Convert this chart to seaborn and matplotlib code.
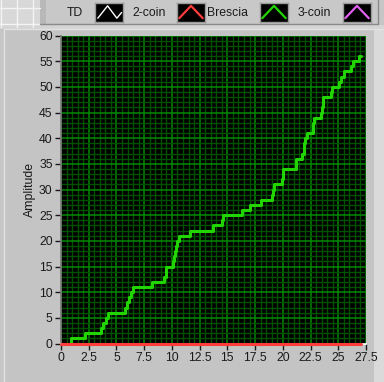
import numpy as np
import pandas as pd
import matplotlib
matplotlib.use("Agg")
import matplotlib.pyplot as plt
from matplotlib.patches import Rectangle
from matplotlib.lines import Line2D
import seaborn as sns

# ---- data ----
brescia_x = [0.0, 0.88, 2.17, 3.62, 3.83, 4.04, 4.28, 5.79, 5.99, 6.10, 6.30, 6.49,
             8.20, 9.32, 9.45, 9.50, 10.10, 10.20, 10.30, 10.40, 10.50, 10.60,
             11.62, 13.70, 14.50, 14.60, 16.30, 17.05, 18.07, 18.98, 19.10, 19.20,
             19.95, 20.00, 20.06, 21.15, 21.20, 21.70, 21.87, 21.95, 22.00, 22.20,
             22.70, 22.75, 22.80, 23.45, 23.55, 23.60, 23.65, 24.30, 24.40, 25.10,
             25.25, 25.55, 25.60, 26.15, 26.30, 26.90, 27.05]
brescia_y = [0, 1, 2, 3, 4, 5, 6, 7, 8, 9, 10, 11,
             12, 13, 14, 15, 16, 17, 18, 19, 20, 21,
             22, 23, 24, 25, 26, 27, 28, 29, 30, 31,
             32, 33, 34, 35, 36, 37, 38, 39, 40, 41,
             42, 43, 44, 45, 46, 47, 48, 49, 50, 51,
             52, 53, 53, 54, 55, 56, 56]
coin2_x = [0.0, 27.05]
coin2_y = [0, 0]

legend_names = ["TD", "2-coin", "Brescia", "3-coin"]
legend_colors = ["#ffffff", "#ff3c3c", "#22d400", "#e060f0"]

x_ticks = [0, 2.5, 5, 7.5, 10, 12.5, 15, 17.5, 20, 22.5, 25, 27.5]
x_tick_labels = ["0", "2.5", "5", "7.5", "10", "12.5", "15", "17.5", "20", "22.5", "25", "27.5"]
y_ticks = list(range(0, 61, 5))
y_label = "Amplitude"

# ---- figure ----
sns.set_theme(style="dark")
plt.rcParams['font.family'] = ['Liberation Sans', 'DejaVu Sans']

W, H = 384, 382
fig = plt.figure(figsize=(W / 100, H / 100), dpi=100)
fig.patch.set_facecolor("#c6c6c6")

BG = -20

def fx(px):
    return px / W

def fy(py):
    return 1 - py / H

def rect(x0, y0, x1, y1, **kw):
    fig.add_artist(Rectangle((fx(x0), fy(y1)), fx(x1) - fx(x0), fy(y0) - fy(y1),
                             transform=fig.transFigure, zorder=BG, **kw))

def hline(x0, x1, y, color, lw=1):
    fig.add_artist(Line2D([fx(x0), fx(x1)], [fy(y), fy(y)], transform=fig.transFigure,
                          color=color, lw=lw, zorder=BG + 1))

def vline(x, y0, y1, color, lw=1):
    fig.add_artist(Line2D([fx(x), fx(x)], [fy(y0), fy(y1)], transform=fig.transFigure,
                          color=color, lw=lw, zorder=BG + 1))

# panel background pieces
rect(0, 0, 40, 27, facecolor="#d8d8d8", edgecolor="none")
for gx in [1, 17, 33]:
    vline(gx, 0, 27, "#f4f4f4")
for gy in [8, 24]:
    hline(0, 40, gy, "#f4f4f4")
rect(0, 25, 384, 29, facecolor="#d4d4d4", edgecolor="none")
rect(4, 29, 384, 382, facecolor="#c4c4c4", edgecolor="none")
vline(4, 29, 382, "#e2e2e2")
hline(4, 384, 29, "#e2e2e2")
rect(374, 29, 384, 382, facecolor="#dadada", edgecolor="none")

# legend strip
rect(40, 0, 378, 24, facecolor="#c8c8c8", edgecolor="none")
rect(40, 0, 46, 24, facecolor="#b8b8b8", edgecolor="none")
hline(40, 378, 24, "#8a8a8a")
vline(378, 0, 24, "#8a8a8a")

label_x = [83, 166, 248, 331]
icon_x = [95, 177, 260, 343]
for name, col, lx, ix in zip(legend_names, legend_colors, label_x, icon_x):
    fig.text(fx(lx), fy(13), name, ha="right", va="center", fontsize=8.8, color="#1a1a1a")
    iax = fig.add_axes([fx(ix), fy(22), fx(28), 19 / H])
    iax.set_facecolor("black")
    iax.set_xlim(0, 1)
    iax.set_ylim(0, 1)
    iax.set_xticks([])
    iax.set_yticks([])
    for s in iax.spines.values():
        s.set_visible(True)
        s.set_color("#9a9a9a")
        s.set_linewidth(1)
    if name == "TD":
        iax.plot([0.1, 0.45, 0.78, 0.95], [0.2, 0.85, 0.2, 0.5], color=col, lw=1)
    else:
        iax.plot([0.08, 0.5, 0.92], [0.2, 0.85, 0.2], color=col, lw=1.6)

# main axes
ax = fig.add_axes([fx(61), fy(343.5), fx(366) - fx(61), (343.5 - 35.5) / H])
ax.set_facecolor("black")

df_b = pd.DataFrame({"x": brescia_x, "y": brescia_y})
df_c = pd.DataFrame({"x": coin2_x, "y": coin2_y})
sns.lineplot(data=df_b, x="x", y="y", ax=ax, estimator=None, sort=False,
             drawstyle="steps-post", color=legend_colors[2], lw=2.2, zorder=3)
sns.lineplot(data=df_c, x="x", y="y", ax=ax, estimator=None, sort=False,
             color=legend_colors[1], lw=2.2, zorder=4, clip_on=False)

ax.set_xlim(0, 27.5)
ax.set_ylim(0, 60)
ax.set_xticks(x_ticks)
ax.set_xticklabels(x_tick_labels)
ax.set_yticks(y_ticks)
ax.set_xticks(np.arange(0, 27.51, 0.5), minor=True)
ax.set_yticks(np.arange(0, 60.1, 1), minor=True)
ax.grid(True, which="major", color="#008a00", lw=1.1)
ax.grid(True, which="minor", color="#005000", lw=1.0)
ax.set_axisbelow(True)
ax.tick_params(which="major", direction="out", length=4, width=1, color="#1a1a1a",
               labelsize=8.8, labelcolor="#1a1a1a", pad=2,
               bottom=True, left=True)
ax.tick_params(which="minor", length=0)
ax.set_xlabel("")
ax.set_ylabel(y_label, fontsize=8.8, color="#1a1a1a", labelpad=2)
for s in ["top", "right"]:
    ax.spines[s].set_visible(False)
ax.spines["left"].set_color("#7a7a7a")
ax.spines["bottom"].set_color("#ffffff")
ax.spines["bottom"].set_linewidth(1.2)

fig.savefig("out.png", dpi=100, facecolor=fig.get_facecolor())
